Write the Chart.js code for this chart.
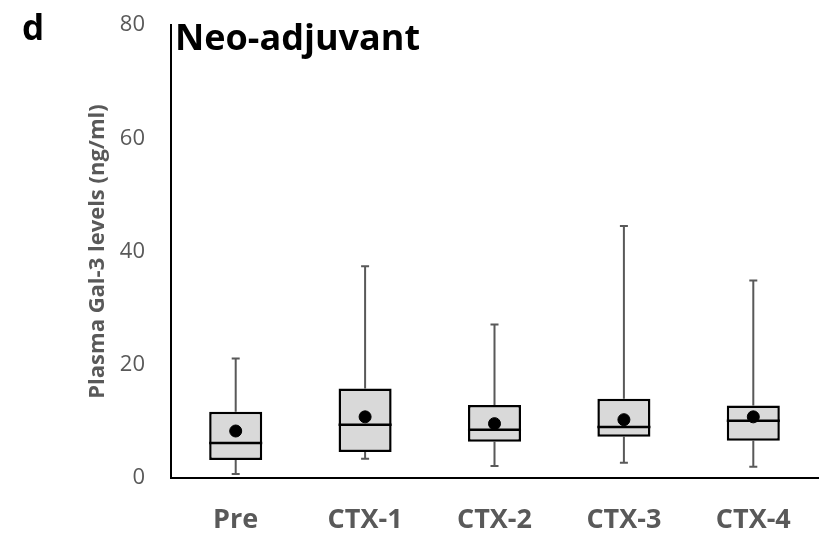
<!DOCTYPE html>
<html>
<head>
<meta charset="utf-8">
<script src="https://cdn.jsdelivr.net/npm/chart.js@4/dist/chart.umd.min.js"></script>
<style>
  html, body { margin: 0; padding: 0; background: #fff; }
  #wrap { width: 825px; height: 534px; }
</style>
</head>
<body>
<div id="wrap"><canvas id="boxChart"></canvas></div>
<script>
// box plot values (ng/ml)
const groups = ["Pre", "CTX-1", "CTX-2", "CTX-3", "CTX-4"];
const minVals = [0.7, 3.4, 2.1, 2.7, 2.0];
const q1Vals = [3.2, 4.6, 6.4, 7.3, 6.6];
const medianVals = [6.2, 9.4, 8.5, 9.0, 10.1];
const q3Vals = [11.7, 15.8, 12.9, 14.0, 12.8];
const maxVals = [21.1, 37.4, 27.1, 44.5, 34.9];
const meanVals = [8.3, 10.8, 9.6, 10.3, 10.8];
const yTicks = [0, 20, 40, 60, 80];

const grey = "#595959";

// whiskers + median lines, drawn with the chart's own scales
const boxExtras = {
  id: "boxExtras",
  beforeDatasetsDraw(chart) {
    const ctx = chart.ctx;
    const x = chart.scales.x, y = chart.scales.y;
    ctx.save();
    ctx.strokeStyle = grey;
    ctx.lineWidth = 2;
    groups.forEach((g, i) => {
      const cx = x.getPixelForValue(i);
      ctx.beginPath();
      ctx.moveTo(cx, y.getPixelForValue(maxVals[i]));
      ctx.lineTo(cx, y.getPixelForValue(q3Vals[i]));
      ctx.moveTo(cx, y.getPixelForValue(q1Vals[i]));
      ctx.lineTo(cx, y.getPixelForValue(minVals[i]));
      ctx.moveTo(cx - 4, y.getPixelForValue(maxVals[i]));
      ctx.lineTo(cx + 4, y.getPixelForValue(maxVals[i]));
      ctx.moveTo(cx - 4, y.getPixelForValue(minVals[i]));
      ctx.lineTo(cx + 4, y.getPixelForValue(minVals[i]));
      ctx.stroke();
    });
    ctx.restore();
  },
  afterDatasetDraw(chart, args) {
    if (args.index !== 0) return;
    const ctx = chart.ctx;
    const y = chart.scales.y;
    const meta = chart.getDatasetMeta(0);
    ctx.save();
    ctx.strokeStyle = "#000";
    ctx.lineWidth = 2.5;
    meta.data.forEach((bar, i) => {
      const half = bar.width / 2;
      const my = y.getPixelForValue(medianVals[i]);
      ctx.beginPath();
      ctx.moveTo(bar.x - half, my);
      ctx.lineTo(bar.x + half, my);
      ctx.stroke();
    });
    ctx.restore();
  },
  afterDraw(chart) {
    const ctx = chart.ctx;
    ctx.save();
    ctx.fillStyle = "#000";
    ctx.textBaseline = "alphabetic";
    ctx.font = "bold 35px 'Open Sans', sans-serif";
    ctx.fillText("d", 22, 40);
    ctx.font = "bold 36px 'Open Sans', sans-serif";
    ctx.fillText("Neo-adjuvant", 175, 50);
    ctx.restore();
  }
};

new Chart(document.getElementById("boxChart"), {
  type: "bar",
  data: {
    labels: groups,
    datasets: [
      {
        type: "bar",
        label: "IQR",
        data: q1Vals.map((q, i) => [q, q3Vals[i]]),
        backgroundColor: "#d9d9d9",
        borderColor: "#000",
        borderWidth: 2.5,
        borderSkipped: false,
        categoryPercentage: 1,
        barPercentage: 0.41,
        order: 2
      },
      {
        type: "line",
        label: "Mean",
        data: meanVals,
        showLine: false,
        pointRadius: 6,
        pointBackgroundColor: "#000",
        pointBorderColor: "#000",
        order: 1
      }
    ]
  },
  options: {
    responsive: true,
    maintainAspectRatio: false,
    animation: false,
    layout: { padding: { left: 83, top: 25, right: 0, bottom: 0 } },
    plugins: { legend: { display: false }, tooltip: { enabled: false } },
    scales: {
      x: {
        grid: { display: false, drawTicks: false },
        border: { color: "#000", width: 2 },
        ticks: {
          color: grey,
          padding: 26,
          font: { family: "'Open Sans', sans-serif", size: 27, weight: "bold" }
        },
        afterFit(scale) { scale.height = 56; }
      },
      y: {
        min: 0,
        max: 80,
        afterBuildTicks(scale) { scale.ticks = yTicks.map(v => ({ value: v })); },
        grid: { display: false, drawTicks: false },
        border: { color: "#000", width: 2 },
        ticks: {
          color: grey,
          padding: 26,
          font: { family: "'Open Sans', sans-serif", size: 22 }
        },
        title: {
          display: true,
          text: "Plasma Gal-3 levels (ng/ml)",
          color: grey,
          padding: { top: 2, bottom: 4 },
          font: { family: "'Open Sans', sans-serif", size: 22, weight: "bold" }
        },
        afterFit(scale) {
          scale.width = 88;
          scale.paddingTop = 0;
          scale.paddingBottom = 0;
        }
      }
    }
  },
  plugins: [boxExtras]
});
</script>
</body>
</html>
